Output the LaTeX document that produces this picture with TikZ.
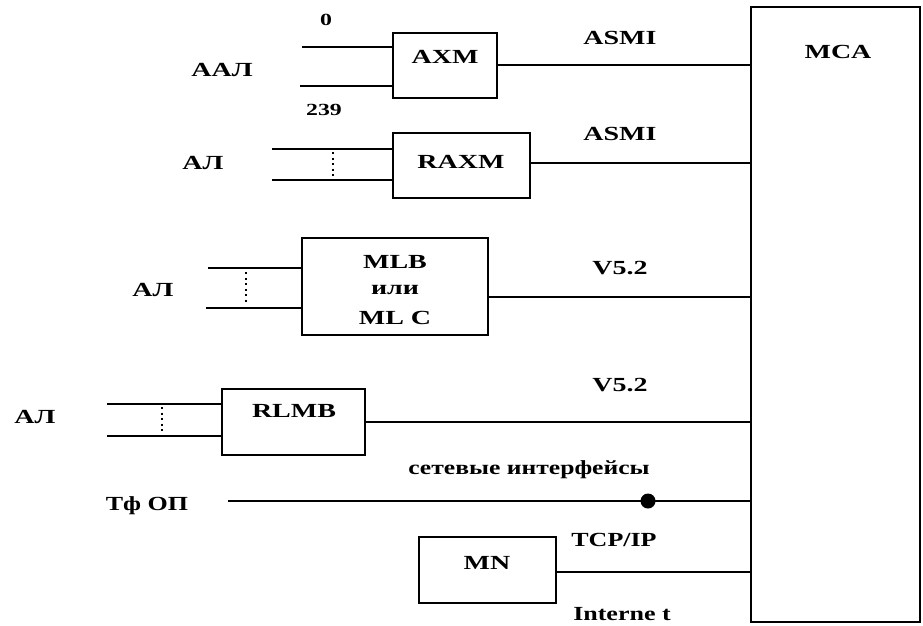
\documentclass[tikz,border=0pt]{standalone}
\usepackage{fontspec}
\usepackage{graphicx}
\setmainfont{Liberation Serif}
\newcommand{\sx}[2][1.4]{\scalebox{#1}[1]{#2}}
\begin{document}
\begin{tikzpicture}[x=1pt,y=-1pt,
  box/.style={draw,line width=2.8pt,inner sep=0pt},
  wire/.style={line width=2.8pt},
  dots/.style={line width=2.6pt,dash pattern=on 2.2pt off 3.3pt},
  lbl/.style={inner sep=0pt,font=\bfseries\fontsize{20}{22}\selectfont},
  slbl/.style={inner sep=0pt,font=\bfseries\fontsize{17}{19}\selectfont}]
\useasboundingbox (0,0) rectangle (923,625);
% MCA
\draw[box] (751,7) rectangle (920,622);
\node[lbl] (mca) at (838,52) {\sx{MCA}};
% AXM
\draw[box] (393,33) rectangle (497,98);
\node[lbl] (axm) at (445,57) {\sx{AXM}};
\coordinate (axmR) at (497,65); \coordinate (mca1) at (751,65);
\draw[wire] (axmR) -- (mca1);
\coordinate (a1s) at (302,47); \coordinate (a1e) at (393,47);
\coordinate (a2s) at (300,86); \coordinate (a2e) at (393,86);
\draw[wire] (a1s) -- (a1e); \draw[wire] (a2s) -- (a2e);
\node[slbl] (n0) at (326,20) {\sx{0}};
\node[slbl] (n239) at (324,110) {\sx{239}};
\node[lbl] (aal) at (222,70) {\sx{ААЛ}};
\node[lbl] (asmi1) at (620,38) {\sx{ASMI}};
% RAXM
\draw[box] (393,133) rectangle (530,198);
\node[lbl] (raxm) at (461,162) {\sx{RAXM}};
\coordinate (raxmR) at (530,163); \coordinate (mca2) at (751,163);
\draw[wire] (raxmR) -- (mca2);
\coordinate (b1s) at (272,149); \coordinate (b1e) at (393,149);
\coordinate (b2s) at (272,180); \coordinate (b2e) at (393,180);
\draw[wire] (b1s) -- (b1e); \draw[wire] (b2s) -- (b2e);
\coordinate (bd1) at (333,152); \coordinate (bd2) at (333,177);
\draw[dots] (bd1) -- (bd2);
\node[lbl] (al1) at (203,163) {\sx{АЛ}};
\node[lbl] (asmi2) at (620,134) {\sx{ASMI}};
% MLB
\draw[box] (302,238) rectangle (488,335);
\node[lbl] (mlb) at (395,262) {\sx{MLB}};
\node[lbl] (ili) at (395,290) {\sx{или}};
\node[lbl] (mlc) at (395,318) {\sx{ML C}};
\coordinate (mlbR) at (488,297); \coordinate (mca3) at (751,297);
\draw[wire] (mlbR) -- (mca3);
\coordinate (c1s) at (208,268); \coordinate (c1e) at (302,268);
\coordinate (c2s) at (206,308); \coordinate (c2e) at (302,308);
\draw[wire] (c1s) -- (c1e); \draw[wire] (c2s) -- (c2e);
\coordinate (cd1) at (246,272); \coordinate (cd2) at (246,302);
\draw[dots] (cd1) -- (cd2);
\node[lbl] (al2) at (153,290) {\sx{АЛ}};
\node[lbl] (v1) at (620,268) {\sx{V5.2}};
% RLMB
\draw[box] (222,389) rectangle (365,455);
\node[lbl] (rlmb) at (294,411) {\sx{RLMB}};
\coordinate (rlmbR) at (365,422); \coordinate (mca4) at (751,422);
\draw[wire] (rlmbR) -- (mca4);
\coordinate (d1s) at (107,404); \coordinate (d1e) at (222,404);
\coordinate (d2s) at (107,436); \coordinate (d2e) at (222,436);
\draw[wire] (d1s) -- (d1e); \draw[wire] (d2s) -- (d2e);
\coordinate (dd1) at (162,407); \coordinate (dd2) at (162,432);
\draw[dots] (dd1) -- (dd2);
\node[lbl] (al3) at (35,417) {\sx{АЛ}};
\node[lbl] (v2) at (620,385) {\sx{V5.2}};
% TfOP
\node[lbl] (tfop) at (147,506) {\sx[1.3]{Тф ОП}};
\coordinate (tfs) at (228,501); \coordinate (mca5) at (751,501);
\draw[wire] (tfs) -- (mca5);
\fill (648,501) circle (7.5pt);
\node[lbl] (net) at (529,470) {\sx[1.28]{сетевые интерфейсы}};
% MN
\draw[box] (419,537) rectangle (556,603);
\node[lbl] (mn) at (487,563) {\sx{MN}};
\coordinate (mnR) at (556,572); \coordinate (mca6) at (751,572);
\draw[wire] (mnR) -- (mca6);
\node[lbl] (tcp) at (614,540) {\sx[1.3]{TCP/IP}};
\node[lbl] (inet) at (622,614) {\sx[1.3]{Interne t}};
\end{tikzpicture}
\end{document}
